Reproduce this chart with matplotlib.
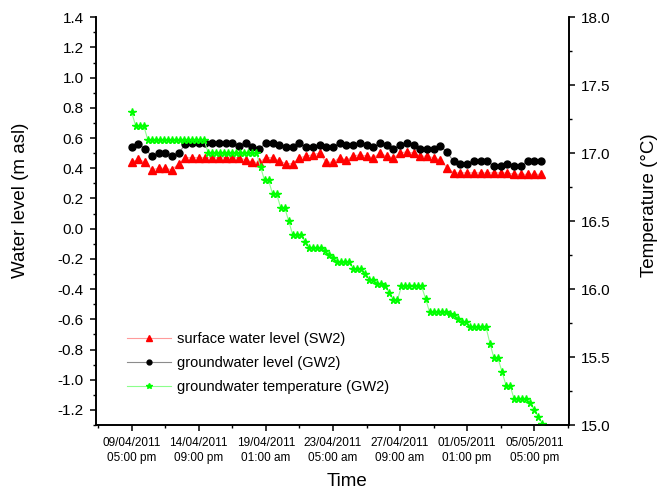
import numpy as np
import matplotlib
matplotlib.use('Agg')
import matplotlib.pyplot as plt
from matplotlib.lines import Line2D
from matplotlib.ticker import MultipleLocator, FormatStrFormatter

plt.rcParams['font.family'] = ['Liberation Sans', 'DejaVu Sans']
plt.rcParams['axes.unicode_minus'] = False  # 负号用普通连字符

# 数据 (时间: 从 09/04/2011 05:00 pm 起算的小时数)
tick_labels = ['09/04/2011\n05:00 pm', '14/04/2011\n09:00 pm', '19/04/2011\n01:00 am',
               '23/04/2011\n05:00 am', '27/04/2011\n09:00 am', '01/05/2011\n01:00 pm',
               '05/05/2011\n05:00 pm']
tick_hours = [0, 100, 200, 300, 400, 500, 600]

level_hours = np.arange(62) * 10
sw2_level = [0.44, 0.46, 0.44, 0.39, 0.40, 0.40, 0.39, 0.43, 0.47, 0.47,
             0.47, 0.47, 0.47, 0.47, 0.47, 0.47, 0.47, 0.455, 0.44, 0.44,
             0.47, 0.47, 0.45, 0.43, 0.43, 0.47, 0.48, 0.49, 0.50, 0.44,
             0.44, 0.47, 0.455, 0.48, 0.49, 0.48, 0.47, 0.50, 0.48, 0.47,
             0.50, 0.51, 0.50, 0.48, 0.48, 0.47, 0.455, 0.405, 0.37, 0.37,
             0.37, 0.37, 0.37, 0.37, 0.37, 0.37, 0.37, 0.36, 0.36, 0.36,
             0.36, 0.36]
gw2_level = [0.54, 0.56, 0.53, 0.48, 0.50, 0.50, 0.48, 0.50, 0.56, 0.565,
             0.565, 0.565, 0.565, 0.565, 0.565, 0.565, 0.55, 0.565, 0.54, 0.53,
             0.565, 0.565, 0.555, 0.54, 0.54, 0.565, 0.54, 0.54, 0.555, 0.54,
             0.54, 0.57, 0.555, 0.555, 0.565, 0.555, 0.54, 0.565, 0.555, 0.53,
             0.555, 0.565, 0.555, 0.53, 0.53, 0.53, 0.55, 0.505, 0.445, 0.43,
             0.43, 0.45, 0.445, 0.445, 0.415, 0.415, 0.43, 0.415, 0.415, 0.45,
             0.45, 0.45]

temp_hours = np.arange(103) * 6
gw2_temp = [17.30, 17.20, 17.20, 17.20,
            17.10, 17.10, 17.10, 17.10, 17.10, 17.10, 17.10, 17.10, 17.10, 17.10,
            17.10, 17.10, 17.10, 17.10, 17.10,
            17.00, 17.00, 17.00, 17.00, 17.00, 17.00, 17.00, 17.00, 17.00, 17.00,
            17.00, 17.00, 17.00,
            16.90, 16.80, 16.80, 16.70, 16.70, 16.60, 16.60, 16.50,
            16.40, 16.40, 16.40, 16.35, 16.30, 16.30, 16.30, 16.30,
            16.28, 16.25, 16.23, 16.20, 16.20, 16.20, 16.20,
            16.15, 16.15, 16.15, 16.11, 16.07, 16.07, 16.04, 16.04, 16.02, 15.97,
            15.92, 15.92, 16.02, 16.02, 16.02, 16.02, 16.02, 16.02, 15.93,
            15.83, 15.83, 15.83, 15.83, 15.83, 15.82, 15.81, 15.78, 15.76, 15.76,
            15.72, 15.72, 15.72, 15.72, 15.72, 15.60, 15.49, 15.49, 15.39,
            15.29, 15.29, 15.19, 15.19, 15.19, 15.19, 15.16, 15.11, 15.06, 15.01]

fig = plt.figure(figsize=(6.72, 4.92), dpi=100)
ax = fig.add_axes([0.143, 0.136, 0.704, 0.829])
ax2 = ax.twinx()

# 水位
ax.plot(level_hours, sw2_level, color='#ff9a9a', lw=0.8, marker='^', ms=5.5,
        mfc='red', mec='red', zorder=3)
ax.plot(level_hours, gw2_level, color='#8c8c8c', lw=0.8, marker='o', ms=5,
        mfc='black', mec='black', zorder=3)
# 温度
ax2.plot(temp_hours, gw2_temp, color='#8cff8c', lw=0.8, marker='*', ms=5.5,
         mfc='#00ff00', mec='#00ff00')

ax.set_xlim(-53, 652)
ax.set_ylim(-1.3, 1.4)
ax2.set_ylim(15.0, 18.0)

ax.set_xticks(tick_hours)
ax.set_xticklabels(tick_labels, fontsize=8.5, linespacing=1.35)
ax.xaxis.set_minor_locator(MultipleLocator(50))
ax.yaxis.set_major_locator(MultipleLocator(0.2))
ax.yaxis.set_minor_locator(MultipleLocator(0.1))
ax.yaxis.set_major_formatter(FormatStrFormatter('%.1f'))
ax2.yaxis.set_major_locator(MultipleLocator(0.5))
ax2.yaxis.set_minor_locator(MultipleLocator(0.25))
ax2.yaxis.set_major_formatter(FormatStrFormatter('%.1f'))

for a in (ax, ax2):
    a.spines['top'].set_visible(False)
    for s in a.spines.values():
        s.set_linewidth(1.2)
    a.tick_params(which='major', direction='out', length=4.5, width=1.1)
    a.tick_params(which='minor', direction='out', length=2.5, width=1.0)
ax.tick_params(axis='y', labelsize=11, pad=4.5)
ax.tick_params(axis='x', which='major', pad=4)
ax2.tick_params(axis='y', labelsize=11, pad=4)

ax.set_xlabel('Time', fontsize=13.5)
ax.set_ylabel('Water level (m asl)', fontsize=13.5)
ax2.set_ylabel('Temperature (°C)', fontsize=13.5)
ax.xaxis.set_label_coords(0.531, -0.118)
ax.yaxis.set_label_coords(-0.142, 0.55)
ax2.yaxis.set_label_coords(1.152, 0.54)

# 图例
handles = [Line2D([], [], color='#ff9a9a', lw=0.8, marker='^', ms=4.5, mfc='red', mec='red'),
           Line2D([], [], color='#8c8c8c', lw=0.8, marker='o', ms=3.5, mfc='black', mec='black'),
           Line2D([], [], color='#8cff8c', lw=0.8, marker='*', ms=4, mfc='#00ff00', mec='#00ff00')]
labels = ['surface water level (SW2)', 'groundwater level (GW2)', 'groundwater temperature (GW2)']
ax2.legend(handles, labels, loc='lower left', bbox_to_anchor=(0.065, 0.075), frameon=False,
           fontsize=10.5, borderpad=0, borderaxespad=0, handlelength=3.0,
           handletextpad=0.45, labelspacing=0.7)

fig.savefig('out.png', dpi=100)
